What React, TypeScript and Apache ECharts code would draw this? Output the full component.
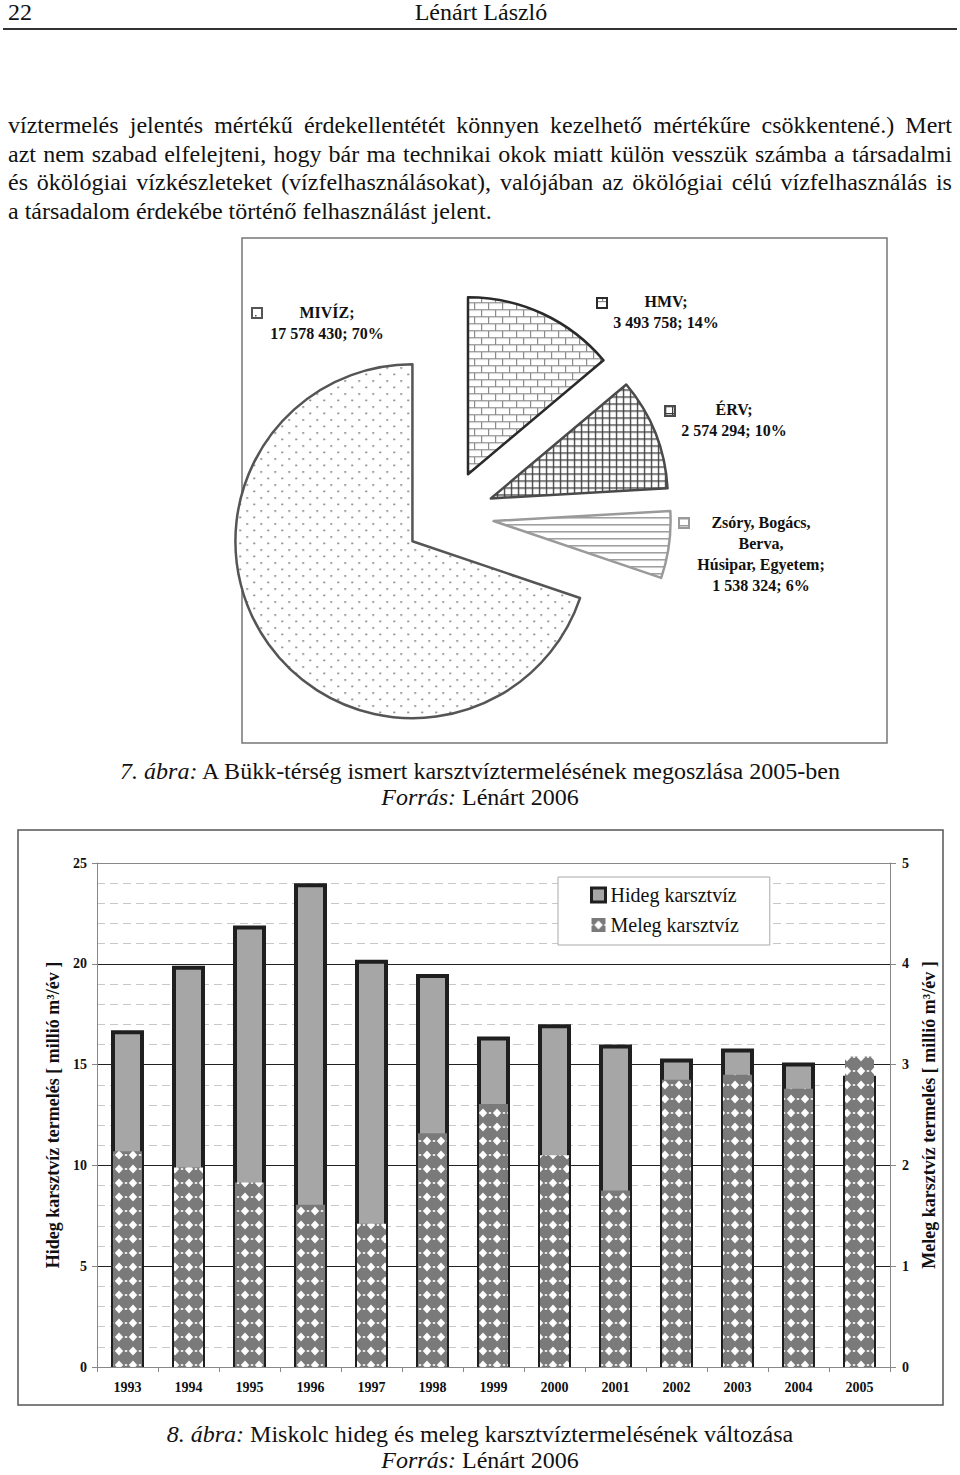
import React, { useEffect, useRef } from 'react';
import * as echarts from 'echarts';

const FONT = '"Liberation Serif", "Times New Roman", serif';

// ---------- data ----------
const years = ['1993', '1994', '1995', '1996', '1997', '1998', '1999', '2000', '2001', '2002', '2003', '2004', '2005'];
const hidegValues = [16.7, 19.9, 21.9, 24.0, 20.2, 19.5, 16.4, 17.0, 16.0, 15.3, 15.8, 15.1, 14.45];
const melegValues = [2.14, 1.98, 1.83, 1.61, 1.42, 2.32, 2.61, 2.1, 1.75, 2.85, 2.9, 2.76, 3.08];
const seriesNames = ['Hideg karsztvíz', 'Meleg karsztvíz'];
const leftAxisName = 'Hideg karsztvíz termelés [ millió m³/év ]';
const rightAxisName = 'Meleg karsztvíz termelés [ millió m³/év ]';

const pieNames = ['HMV', 'ÉRV', 'Zsóry, Bogács,\nBerva,\nHúsipar, Egyetem', 'MIVÍZ'];
const pieValues = [3493758, 2574294, 1538324, 17578430];

const headerPage = '22';
const headerAuthor = 'Lénárt László';
const bodyLines = [
  'víztermelés jelentés mértékű érdekellentétét könnyen kezelhető mértékűre csökkentené.) Mert',
  'azt nem szabad elfelejteni, hogy bár ma technikai okok miatt külön vesszük számba a társadalmi',
  'és ökölógiai vízkészleteket (vízfelhasználásokat), valójában az ökölógiai célú vízfelhasználás is',
  'a társadalom érdekébe történő felhasználást jelent.',
];
const caption1 = ['7. ábra:', ' A Bükk-térség ismert karsztvíztermelésének megoszlása 2005-ben'];
const caption2 = ['8. ábra:', ' Miskolc hideg és meleg karsztvíztermelésének változása'];
const source = ['Forrás:', ' Lénárt 2006'];

// label anchors (layout)
const pieLabelPos = [
  { key: [597, 298], text: [666, 291] },
  { key: [665, 406], text: [734, 399] },
  { key: [679, 518], text: [761, 512] },
  { key: [252, 308], text: [327, 302] },
];

function fmt(v: number) {
  return String(v).replace(/\B(?=(\d{3})+(?!\d))/g, ' ');
}

function makePattern(w: number, h: number, draw: (ctx: CanvasRenderingContext2D) => void) {
  const c = document.createElement('canvas');
  c.width = w;
  c.height = h;
  const ctx = c.getContext('2d')!;
  draw(ctx);
  return { image: c, repeat: 'repeat', imageWidth: w, imageHeight: h } as any;
}

function Chart() {
  const ref = useRef<HTMLDivElement>(null);
  useEffect(() => {
    if (!ref.current) return;
    const chart = echarts.init(ref.current, undefined, { renderer: 'svg' });

    const dots = makePattern(14, 13, (ctx) => {
      ctx.fillStyle = '#fff';
      ctx.fillRect(0, 0, 14, 13);
      ctx.fillStyle = '#555';
      ctx.fillRect(3, 3, 1.5, 1.5);
      ctx.fillRect(10, 9.5, 1.5, 1.5);
    });
    const brick = makePattern(14, 14, (ctx) => {
      ctx.fillStyle = '#fff';
      ctx.fillRect(0, 0, 14, 14);
      ctx.fillStyle = '#8c8c8c';
      ctx.fillRect(0, 0, 14, 1.2);
      ctx.fillRect(0, 7, 14, 1.2);
      ctx.fillRect(0, 0, 1.2, 7);
      ctx.fillRect(7, 7, 1.2, 7);
    });
    const grid = makePattern(7, 7, (ctx) => {
      ctx.fillStyle = '#fff';
      ctx.fillRect(0, 0, 7, 7);
      ctx.fillStyle = '#3c3c3c';
      ctx.fillRect(0, 0, 7, 1.3);
      ctx.fillRect(0, 0, 1.3, 7);
    });
    const hlines = makePattern(8, 7, (ctx) => {
      ctx.fillStyle = '#fff';
      ctx.fillRect(0, 0, 8, 7);
      ctx.fillStyle = '#999';
      ctx.fillRect(0, 0, 8, 1.5);
    });
    const diamonds = makePattern(14, 14, (ctx) => {
      ctx.fillStyle = '#7a7a7a';
      ctx.fillRect(0, 0, 14, 14);
      ctx.fillStyle = '#fff';
      ctx.beginPath();
      ctx.moveTo(7, 2.5);
      ctx.lineTo(11.2, 7);
      ctx.lineTo(7, 11.5);
      ctx.lineTo(2.8, 7);
      ctx.closePath();
      ctx.fill();
      ctx.fillRect(0, 6.2, 1.2, 1.6);
      ctx.fillRect(12.8, 6.2, 1.2, 1.6);
    });

    const pieFills = [brick, grid, hlines, dots];
    const pieBorders = ['#2a2a2a', '#4a4a4a', '#9a9a9a', '#555'];
    const total = pieValues.reduce((a, b) => a + b, 0);

    const pieData = pieNames.map((n, i) => {
      const st = { color: pieFills[i], borderColor: pieBorders[i], borderWidth: 2.5 };
      return { name: n, value: pieValues[i], selected: true, itemStyle: st, select: { itemStyle: st }, emphasis: { itemStyle: st } };
    });

    const pieGraphics: any[] = [];
    pieNames.forEach((n, i) => {
      const p = pieLabelPos[i];
      pieGraphics.push({
        type: 'rect',
        shape: { x: p.key[0], y: p.key[1], width: 10, height: 10 },
        style: { fill: pieFills[i], stroke: pieBorders[i], lineWidth: 2 },
        silent: true,
      });
      const pct = Math.round((pieValues[i] / total) * 100);
      pieGraphics.push({
        type: 'text',
        x: p.text[0],
        y: p.text[1],
        silent: true,
        style: {
          text: n + ';\n' + fmt(pieValues[i]) + '; ' + pct + '%',
          font: 'bold 16px ' + FONT,
          fill: '#111',
          align: 'center',
          verticalAlign: 'top',
          lineHeight: 21,
        },
      });
    });

    const option: any = {
      animation: false,
      textStyle: { fontFamily: FONT },
      graphic: [
        { type: 'rect', shape: { x: 242, y: 238, width: 645, height: 505 }, style: { fill: 'none', stroke: '#777', lineWidth: 1.5 }, silent: true, z: -1 },
        { type: 'rect', shape: { x: 18, y: 830, width: 925, height: 575 }, style: { fill: 'none', stroke: '#555', lineWidth: 1.5 }, silent: true, z: -1 },
        ...pieGraphics,
      ],
      legend: {
        orient: 'vertical',
        left: 558,
        top: 877,
        padding: [8, 31, 10, 32],
        itemWidth: 14,
        itemHeight: 14,
        itemGap: 10,
        icon: 'rect',
        backgroundColor: '#fff',
        borderColor: '#aaa',
        borderWidth: 1,
        textStyle: { fontFamily: FONT, fontSize: 20, color: '#111', lineHeight: 20 },
        data: [
          { name: seriesNames[0], itemStyle: { borderWidth: 3, borderColor: '#1f1f1f', color: '#a6a6a6' } },
          { name: seriesNames[1], itemStyle: { color: diamonds, borderWidth: 0 } },
        ],
        selectedMode: false,
      },
      grid: { left: 97, top: 863, width: 793, height: 504 },
      xAxis: [
        {
          type: 'category',
          data: years,
          gridIndex: 0,
          axisLine: { lineStyle: { color: '#888', width: 1 } },
          axisTick: { show: true, length: 5, lineStyle: { color: '#888' } },
          axisLabel: { fontWeight: 'bold', fontSize: 14, color: '#111', margin: 13, interval: 0, fontFamily: FONT },
          splitLine: { show: false },
        },
        { type: 'category', data: years, gridIndex: 0, show: false },
      ],
      yAxis: [
        {
          type: 'value',
          min: 0,
          max: 25,
          interval: 5,
          position: 'left',
          name: leftAxisName,
          nameLocation: 'middle',
          nameRotate: 90,
          nameGap: 32,
          nameTextStyle: { fontWeight: 'bold', fontSize: 18, color: '#111', fontFamily: FONT },
          axisLine: { show: true, lineStyle: { color: '#888' } },
          axisTick: { show: true, length: 5, lineStyle: { color: '#888' } },
          axisLabel: { fontWeight: 'bold', fontSize: 14, color: '#111', margin: 10, fontFamily: FONT },
          splitLine: { show: true, lineStyle: { color: ['#888', '#222', '#222', '#222', '#222', '#888'], width: 1 } },
          minorTick: { show: false, splitNumber: 5 },
          minorSplitLine: { show: true, lineStyle: { color: '#c8c8c8', type: [8, 5], width: 1 } },
        },
        {
          type: 'value',
          min: 0,
          max: 5,
          interval: 1,
          position: 'right',
          name: rightAxisName,
          nameLocation: 'middle',
          nameRotate: 90,
          nameGap: 23,
          nameTextStyle: { fontWeight: 'bold', fontSize: 18, color: '#111', fontFamily: FONT },
          axisLine: { show: true, lineStyle: { color: '#888' } },
          axisTick: { show: true, length: 6, lineStyle: { color: '#888' } },
          axisLabel: { fontWeight: 'bold', fontSize: 14, color: '#111', margin: 12, fontFamily: FONT },
          splitLine: { show: false },
        },
      ],
      series: [
        {
          type: 'pie',
          center: [449, 515],
          radius: 177,
          startAngle: 90,
          clockwise: true,
          selectedMode: 'multiple',
          selectedOffset: 45,
          silent: true,
          label: { show: false },
          labelLine: { show: false },
          data: pieData,
        },
        {
          name: seriesNames[0],
          type: 'bar',
          xAxisIndex: 0,
          yAxisIndex: 0,
          barWidth: 33,
          silent: true,
          itemStyle: { color: '#a6a6a6', borderColor: '#1f1f1f', borderWidth: 4 },
          data: hidegValues,
          z: 2,
        },
        {
          name: seriesNames[1],
          type: 'bar',
          xAxisIndex: 1,
          yAxisIndex: 1,
          barWidth: 29,
          silent: true,
          itemStyle: { color: diamonds, borderWidth: 0 },
          data: melegValues,
          z: 3,
        },
      ],
    };
    chart.setOption(option);
    return () => chart.dispose();
  }, []);
  return <div ref={ref} style={{ position: 'absolute', left: 0, top: 0, width: 960, height: 1475 }} />;
}

const textBase: React.CSSProperties = {
  position: 'absolute',
  fontFamily: FONT,
  fontSize: 24,
  lineHeight: '28px',
  color: '#111',
  whiteSpace: 'pre',
  pointerEvents: 'none',
};

function JustLine({ text, top, justify }: { text: string; top: number; justify: boolean }) {
  if (!justify) {
    return <div style={{ ...textBase, left: 8, top }}>{text}</div>;
  }
  const words = text.split(' ');
  return (
    <div style={{ ...textBase, left: 8, top, width: 944, display: 'flex', justifyContent: 'space-between' }}>
      {words.map((w, i) => (
        <span key={i}>{w}</span>
      ))}
    </div>
  );
}

function Caption({ parts, top }: { parts: string[]; top: number }) {
  return (
    <div style={{ ...textBase, left: 0, width: 960, top, textAlign: 'center' }}>
      <i>{parts[0]}</i>
      {parts[1]}
    </div>
  );
}

export default function App() {
  return (
    <div style={{ position: 'absolute', left: 0, top: 0, width: 960, height: 1475, background: '#fff' }}>
      <Chart />
      <div style={{ ...textBase, left: 8, top: -2 }}>{headerPage}</div>
      <div style={{ ...textBase, left: 0, width: 962, top: -2, textAlign: 'center' }}>{headerAuthor}</div>
      <div style={{ position: 'absolute', left: 3, top: 28, width: 954, height: 2, background: '#333' }} />
      {bodyLines.map((l, i) => (
        <JustLine key={i} text={l} top={111 + i * 28.5} justify={i < bodyLines.length - 1} />
      ))}
      <Caption parts={caption1} top={757} />
      <Caption parts={source} top={783} />
      <Caption parts={caption2} top={1420} />
      <Caption parts={source} top={1446} />
    </div>
  );
}
